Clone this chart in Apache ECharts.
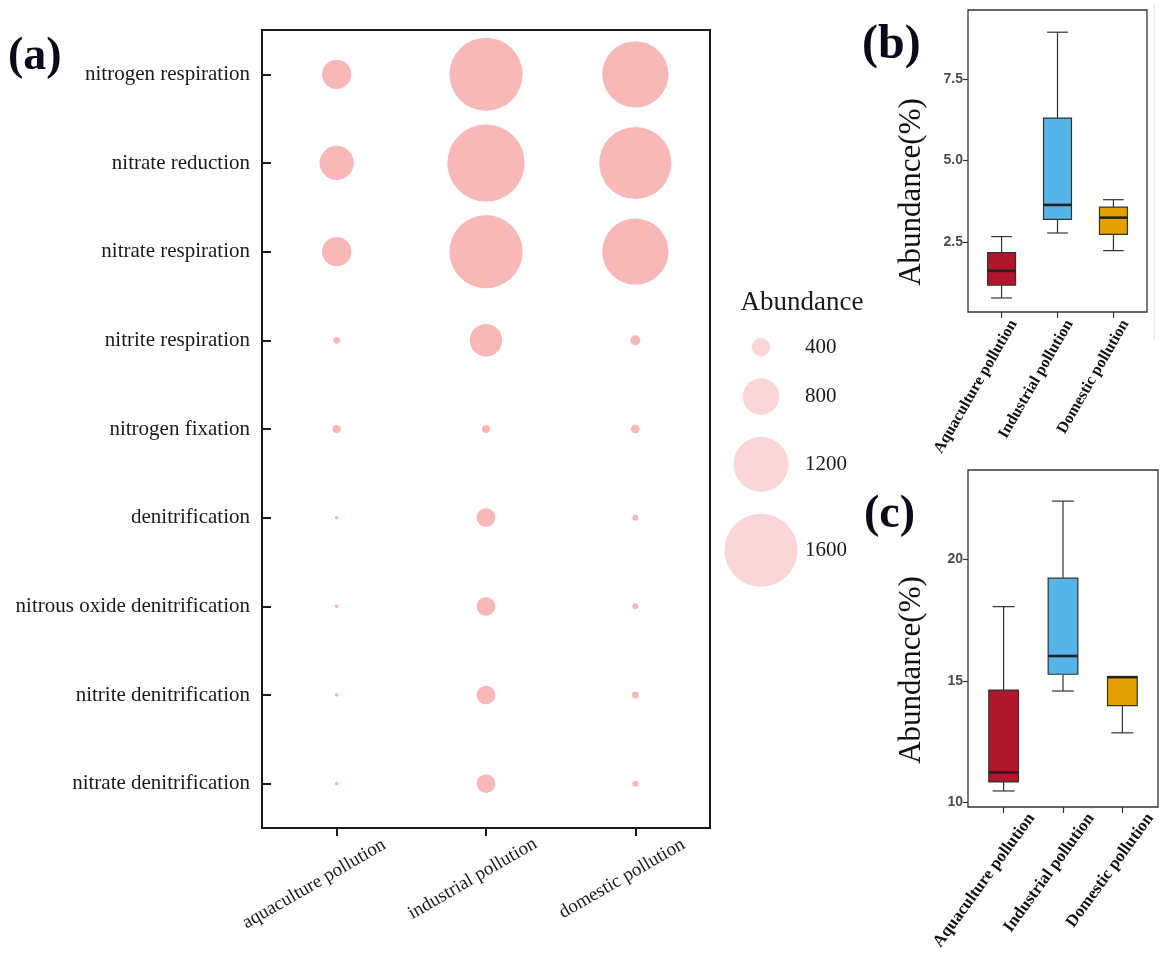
<!DOCTYPE html>
<html>
<head>
<meta charset="utf-8">
<script src="https://cdn.jsdelivr.net/npm/echarts@6/dist/echarts.min.js"></script>
<style>
html,body{margin:0;padding:0;background:#fff;}
#main{width:1170px;height:957px;}
</style>
</head>
<body>
<div id="main"></div>
<script>
// ---------- Panel (a) data ----------
const functions = ['nitrogen respiration','nitrate reduction','nitrate respiration','nitrite respiration','nitrogen fixation','denitrification','nitrous oxide denitrification','nitrite denitrification','nitrate denitrification'];
const groups = ['aquaculture pollution','industrial pollution','domestic pollution'];
const aquaculture = [640, 750, 640, 150, 180, 80, 80, 80, 80];
const industrial  = [1600, 1690, 1600, 710, 175, 410, 410, 410, 410];
const domestic    = [1450, 1580, 1450, 220, 190, 130, 130, 150, 130];
const legendValues = [400, 800, 1200, 1600];

// ---------- Panels (b) and (c) data: [min, Q1, median, Q3, max] ----------
const boxGroups = ['Aquaculture pollution','Industrial pollution','Domestic pollution'];
const boxB = [
  [0.79, 1.18, 1.62, 2.18, 2.67],
  [2.78, 3.20, 3.64, 6.30, 8.93],
  [2.24, 2.74, 3.25, 3.57, 3.80]
];
const boxC = [
  [10.47, 10.84, 11.23, 14.62, 18.05],
  [14.58, 15.27, 16.02, 19.22, 22.39],
  [12.86, 13.98, 15.15, 15.17, 15.17]
];
const ticksB = [2.5, 5.0, 7.5];
const ticksC = [10, 15, 20];
const boxColors = ['#B0162B', '#56B4E9', '#E69F00'];

const SERIF = '"Liberation Serif", "Times New Roman", serif';
const SANS = '"Liberation Sans", Arial, sans-serif';
const sizeOf = v => v * 0.0457;

// bubble data
const bubbleData = [];
[aquaculture, industrial, domestic].forEach((arr, gi) => {
  arr.forEach((v, fi) => bubbleData.push([groups[gi], functions[fi], v]));
});

// legend layout (stacked circles with constant gap)
const legGap = 22;
const legendData = [];
let yCur = 0;
legendValues.forEach((v, i) => {
  const r = sizeOf(v) / 2;
  if (i === 0) yCur = r; else yCur += legendData[i-1].r + legGap + r;
  legendData.push({ value: [0, yCur, v], r: r });
});

function boxSeriesData(arr) {
  return arr.map((d, i) => [i + 1].concat(d));
}

function renderBox(params, api) {
  const x = api.value(0);
  const lo = api.coord([x, api.value(1)]);
  const q1 = api.coord([x, api.value(2)]);
  const md = api.coord([x, api.value(3)]);
  const q3 = api.coord([x, api.value(4)]);
  const hi = api.coord([x, api.value(5)]);
  const unit = api.size([1, 0])[0];
  const bw = unit * 0.5, cw = unit * 0.37;
  const cx = lo[0];
  const ls = { stroke: '#333', lineWidth: 1.2, fill: null };
  return {
    type: 'group',
    children: [
      { type: 'line', shape: { x1: cx, y1: lo[1], x2: cx, y2: q1[1] }, style: ls },
      { type: 'line', shape: { x1: cx, y1: q3[1], x2: cx, y2: hi[1] }, style: ls },
      { type: 'line', shape: { x1: cx - cw/2, y1: lo[1], x2: cx + cw/2, y2: lo[1] }, style: ls },
      { type: 'line', shape: { x1: cx - cw/2, y1: hi[1], x2: cx + cw/2, y2: hi[1] }, style: ls },
      { type: 'rect', shape: { x: cx - bw/2, y: q3[1], width: bw, height: q1[1] - q3[1] },
        style: { fill: boxColors[params.dataIndex], stroke: '#333', lineWidth: 1.2 } },
      { type: 'line', shape: { x1: cx - bw/2, y1: md[1], x2: cx + bw/2, y2: md[1] }, style: { stroke: '#222', lineWidth: 2.6 } }
    ]
  };
}

function boxXAxis(gridIndex, rotate, labelCfg) {
  return {
    type: 'value', gridIndex: gridIndex, min: 0.4, max: 3.6,
    splitLine: { show: false },
    axisLine: { show: false },
    axisTick: { show: true, customValues: [1, 2, 3], length: 6, lineStyle: { color: '#333', width: 1.2 } },
    axisLabel: Object.assign({
      show: true, customValues: [1, 2, 3], rotate: rotate, interval: 0,
      formatter: v => boxGroups[Math.round(v) - 1],
      fontFamily: SERIF, fontWeight: 'bold', fontSize: 16, color: '#111',
      align: 'right', verticalAlign: 'top'
    }, labelCfg)
  };
}
function boxYAxis(gridIndex, min, max, ticks, digits) {
  return {
    type: 'value', gridIndex: gridIndex, min: min, max: max,
    splitLine: { show: false },
    axisLine: { show: false },
    axisTick: { show: true, customValues: ticks, length: 5, lineStyle: { color: '#333', width: 1.2 } },
    axisLabel: { show: true, customValues: ticks, formatter: v => v.toFixed(digits),
      fontFamily: SANS, fontWeight: 'bold', fontSize: 14, color: '#4D4D4D', margin: 5 }
  };
}

const chart = echarts.init(document.getElementById('main'));
const option = {
  backgroundColor: '#ffffff',
  animation: false,
  grid: [
    { left: 262, top: 30, width: 448, height: 798, show: true, borderColor: '#1a1a1a', borderWidth: 2, containLabel: false, outerBoundsMode: 'none' },
    { left: 721, top: 338, width: 80, height: 260, show: false, containLabel: false, outerBoundsMode: 'none' },
    { left: 968, top: 10, width: 179, height: 302, show: true, borderColor: '#333', borderWidth: 1.3, containLabel: false, outerBoundsMode: 'none' },
    { left: 968, top: 470, width: 190, height: 337, show: true, borderColor: '#333', borderWidth: 1.3, containLabel: false, outerBoundsMode: 'none' }
  ],
  xAxis: [
    {
      type: 'category', gridIndex: 0, data: groups, boundaryGap: true,
      axisLine: { show: false },
      axisTick: { show: true, inside: false, length: 8, alignWithLabel: true, lineStyle: { color: '#1a1a1a', width: 2 } },
      axisLabel: {
        interval: 0, rotate: 30, align: 'center', verticalAlign: 'middle', margin: 43,
        fontFamily: SERIF, fontSize: 19, color: '#1a1a1a',
        formatter: (v, i) => '{p' + i + '|' + v + '}',
        rich: {
          p0: { padding: [0, 52, 0, 0], fontFamily: SERIF, fontSize: 19, color: '#1a1a1a' },
          p1: { padding: [0, 31, 0, 0], fontFamily: SERIF, fontSize: 19, color: '#1a1a1a' },
          p2: { padding: [0, 31, 0, 0], fontFamily: SERIF, fontSize: 19, color: '#1a1a1a' }
        }
      },
      splitLine: { show: false }
    },
    { type: 'value', gridIndex: 1, min: -1, max: 1, show: false },
    boxXAxis(2, 60, { margin: 0, padding: [7, 2, 0, 0] }),
    boxXAxis(3, 54, { margin: -12, padding: [26, 0, 0, 0], fontSize: 17 })
  ],
  yAxis: [
    {
      type: 'category', gridIndex: 0, data: functions, inverse: true, boundaryGap: true,
      axisLine: { show: false },
      axisTick: { show: true, inside: true, length: 9, alignWithLabel: true, lineStyle: { color: '#1a1a1a', width: 2 } },
      axisLabel: { interval: 0, margin: 12, fontFamily: SERIF, fontSize: 21, color: '#1a1a1a' },
      splitLine: { show: false }
    },
    { type: 'value', gridIndex: 1, min: 0, max: 260, inverse: true, show: false },
    boxYAxis(2, 0.36, 9.61, ticksB, 1),
    boxYAxis(3, 9.81, 23.67, ticksC, 0)
  ],
  series: [
    {
      type: 'scatter', xAxisIndex: 0, yAxisIndex: 0,
      data: bubbleData,
      symbolSize: d => sizeOf(d[2]),
      itemStyle: { color: '#F8B8B8', opacity: 1 },
      silent: true
    },
    {
      type: 'scatter', xAxisIndex: 1, yAxisIndex: 1,
      data: legendData.map(d => ({
        value: d.value,
        label: { show: true, position: 'right', distance: 44 - d.r, formatter: String(d.value[2]),
          fontFamily: SERIF, fontSize: 21, color: '#1a1a1a' }
      })),
      symbolSize: d => sizeOf(d[2]),
      itemStyle: { color: '#FAD6D6', opacity: 1 },
      silent: true
    },
    {
      type: 'custom', xAxisIndex: 2, yAxisIndex: 2,
      data: boxSeriesData(boxB), renderItem: renderBox, silent: true
    },
    {
      type: 'custom', xAxisIndex: 3, yAxisIndex: 3,
      data: boxSeriesData(boxC), renderItem: renderBox, silent: true
    }
  ],
  graphic: [
    { type: 'text', left: 8, top: 34, style: { text: '(a)', font: 'bold 46px ' + SERIF, fill: '#0a0a1a' } },
    { type: 'text', left: 862, top: 22, style: { text: '(b)', font: 'bold 48px ' + SERIF, fill: '#0a0a1a' } },
    { type: 'text', left: 864, top: 492, style: { text: '(c)', font: 'bold 46px ' + SERIF, fill: '#0a0a1a' } },
    { type: 'text', x: 802, y: 303, style: { text: 'Abundance', font: '27px ' + SERIF, fill: '#1a1a1a', textAlign: 'center', textVerticalAlign: 'middle' } },
    { type: 'text', x: 912, y: 192, rotation: Math.PI / 2, style: { text: 'Abundance(%)', font: '31px ' + SERIF, fill: '#111', textAlign: 'center', textVerticalAlign: 'middle' } },
    { type: 'text', x: 912, y: 670, rotation: Math.PI / 2, style: { text: 'Abundance(%)', font: '31px ' + SERIF, fill: '#111', textAlign: 'center', textVerticalAlign: 'middle' } },
    { type: 'line', shape: { x1: 1154, y1: 4, x2: 1154, y2: 340 }, style: { stroke: '#e2e2e2', lineWidth: 1 } }
  ]
};
chart.setOption(option);
</script>
</body>
</html>
